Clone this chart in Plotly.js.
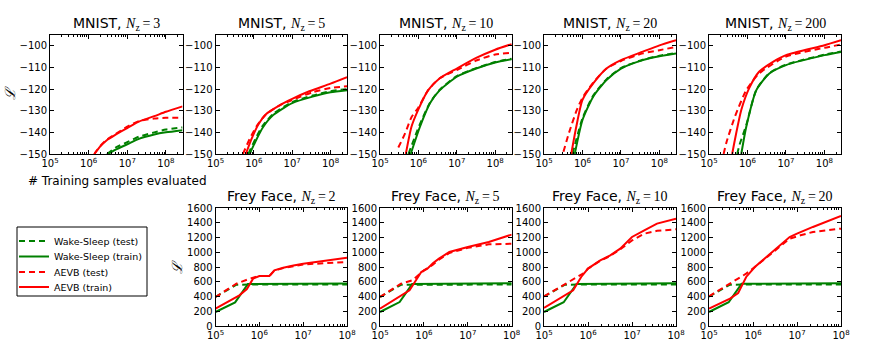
<!DOCTYPE html>
<html>
<head>
<meta charset="utf-8">
<script src="https://cdn.plot.ly/plotly-3.0.1.min.js"></script>
<style>html,body{margin:0;padding:0;background:#fff;}#chart{width:876px;height:355px;}</style>
</head>
<body>
<div id="chart"></div>
<script>
// ---------------- DATA ----------------
const seriesNames = ["Wake-Sleep (test)", "Wake-Sleep (train)", "AEVB (test)", "AEVB (train)"];
const mnistTitles = ["3", "5", "10", "20", "200"];
const freyTitles = ["2", "5", "10", "20"];
const mnistYTicks = [-150, -140, -130, -120, -110, -100];
const freyYTicks = [0, 200, 400, 600, 800, 1000, 1200, 1400, 1600];
const xTicks = [1e5, 1e6, 1e7, 1e8];

// MNIST Nz=3
const m3_wsTest_x = [3.0e6, 5e6, 1e7, 2e7, 5e7, 1e8, 2.7e8];
const m3_wsTest_y = [-150, -147, -144.5, -142, -140, -138.7, -137.7];
const m3_wsTrain_x = [3.2e6, 5e6, 1e7, 2e7, 5e7, 1e8, 2.7e8];
const m3_wsTrain_y = [-150, -148, -145.5, -143, -141, -140, -139];
const m3_aevbTest_x = [1.4e6, 2e6, 3e6, 5e6, 1e7, 2e7, 5e7, 1e8, 2.7e8];
const m3_aevbTest_y = [-150, -146.3, -143.3, -140.8, -137.3, -134.8, -133.6, -133.3, -133.3];
const m3_aevbTrain_x = [1.4e6, 2e6, 3e6, 5e6, 1e7, 2e7, 5e7, 1e8, 2.7e8];
const m3_aevbTrain_y = [-150, -146.5, -143.5, -141, -138, -135, -132.5, -130.5, -128];

// MNIST Nz=5
const m5_wsTest_x = [7.2e5, 1.1e6, 1.7e6, 3.2e6, 1e7, 3.4e7, 1e8, 2.7e8];
const m5_wsTest_y = [-150, -143, -137, -131.5, -126, -123, -121, -120];
const m5_wsTrain_x = [7.8e5, 1.15e6, 1.75e6, 3.2e6, 1e7, 3.4e7, 1e8, 2.7e8];
const m5_wsTrain_y = [-150, -143.5, -137.5, -132, -126.5, -123.5, -121.5, -120.5];
const m5_aevbTest_x = [5.2e5, 7.8e5, 1.2e6, 2e6, 4.7e6, 1e7, 3.4e7, 1e8, 2.7e8];
const m5_aevbTest_y = [-150, -143, -137, -132, -127.5, -125, -121.5, -119.5, -118.7];
const m5_aevbTrain_x = [6.2e5, 8.5e5, 1.3e6, 2.1e6, 4.7e6, 1e7, 2.8e7, 1e8, 2.7e8];
const m5_aevbTrain_y = [-150, -143.5, -136.5, -131.5, -127.5, -124.5, -121, -117.5, -114.5];

// MNIST Nz=10
const m10_wsTest_x = [5.5e5, 1.05e6, 2e6, 3.6e6, 1e7, 3.2e7, 1e8, 2.7e8];
const m10_wsTest_y = [-150, -137, -126.3, -120.3, -114, -110.3, -107.5, -106];
const m10_wsTrain_x = [6.3e5, 1.1e6, 2e6, 3.6e6, 1e7, 3.2e7, 1e8, 2.7e8];
const m10_wsTrain_y = [-150, -137.4, -126.6, -120.5, -114.3, -110.5, -107.7, -106.2];
const m10_aevbTest_x = [3e5, 4.5e5, 6.6e5, 1e6, 1.8e6, 3.6e6, 1e7, 3.2e7, 1e8, 2.7e8];
const m10_aevbTest_y = [-147, -140.5, -133, -128.5, -120.5, -115, -111.2, -106.8, -104, -103.2];
const m10_aevbTrain_x = [4.7e5, 6.6e5, 9.8e5, 1.8e6, 3.6e6, 1e7, 3.2e7, 1e8, 2.7e8];
const m10_aevbTrain_y = [-150, -137.4, -129.7, -120.5, -115, -110.5, -105.6, -101.8, -99.2];

// MNIST Nz=20
const m20_wsTest_x = [5.5e5, 1e6, 1.9e6, 4.2e6, 1e7, 3.7e7, 1e8, 2.7e8];
const m20_wsTest_y = [-150, -133.5, -123, -115.5, -110.3, -106.4, -104.6, -103.3];
const m20_wsTrain_x = [6.3e5, 1e6, 1.9e6, 4.2e6, 1e7, 3.7e7, 1e8, 2.7e8];
const m20_wsTrain_y = [-150, -134.3, -123.5, -115.8, -110.5, -106.6, -104.8, -103.5];
const m20_aevbTest_x = [3.2e5, 4.5e5, 7e5, 1e6, 1.9e6, 4.2e6, 1e7, 3.7e7, 1e8, 2.7e8];
const m20_aevbTest_y = [-149, -140, -130, -124, -117, -110.5, -107, -103.5, -102, -100.5];
const m20_aevbTrain_x = [5.1e5, 6.9e5, 1e6, 1.9e6, 4.2e6, 1e7, 3.7e7, 1e8, 2.7e8];
const m20_aevbTrain_y = [-150, -137.4, -125, -117.4, -110.5, -106.6, -102.7, -99.8, -97.4];

// MNIST Nz=200
const m200_wsTest_x = [5.4e5, 6.2e5, 9.3e5, 1.7e6, 3.7e6, 1e7, 1e8, 2.7e8];
const m200_wsTest_y = [-150, -145.8, -136.6, -120.3, -112.6, -108.7, -104.1, -102.6];
const m200_wsTrain_x = [6.9e5, 9.3e5, 1.7e6, 3.7e6, 1e7, 1e8, 2.7e8];
const m200_wsTrain_y = [-150, -137.4, -120.5, -112.8, -108.9, -104.3, -102.8];
const m200_aevbTest_x = [2.4e5, 2.8e5, 4.7e5, 9.3e5, 2e6, 1e7, 1e8, 2.7e8];
const m200_aevbTest_y = [-150, -145, -132.8, -120.5, -112.8, -105, -100.9, -99.4];
const m200_aevbTrain_x = [4e5, 4.7e5, 6.9e5, 1.1e6, 2e6, 4.6e6, 1e7, 1e8, 2.7e8];
const m200_aevbTrain_y = [-150, -143.5, -129.7, -119.7, -112, -107.4, -104.3, -99.7, -97.4];

// Frey Face Nz=2
const f2_wsTest_x = [1e5, 3e5, 1e6, 1e7, 1e8];
const f2_wsTest_y = [395, 560, 562, 560, 562];
const f2_wsTrain_x = [1e5, 2.8e5, 5.5e5, 1e6, 1e7, 1e8];
const f2_wsTrain_y = [190, 320, 570, 570, 572, 576];
const f2_aevbTest_x = [1e5, 3e5, 6e5, 1e6, 1.7e6, 2.2e6, 3.5e6, 1e7, 1e8];
const f2_aevbTest_y = [393, 574, 642, 678, 678, 750, 785, 835, 868];
const f2_aevbTrain_x = [1e5, 3.5e5, 5.2e5, 7.2e5, 1e6, 1.7e6, 2.2e6, 3.5e6, 6e6, 1e7, 1e8];
const f2_aevbTrain_y = [235, 416, 500, 642, 678, 678, 755, 790, 820, 845, 925];

// Frey Face Nz=5
const f5_wsTest_x = [1e5, 3e5, 1e6, 1e7, 1e8];
const f5_wsTest_y = [393, 558, 560, 560, 562];
const f5_wsTrain_x = [1e5, 2.8e5, 5.4e5, 1e6, 1e7, 1e8];
const f5_wsTrain_y = [190, 325, 568, 570, 574, 580];
const f5_aevbTest_x = [1e5, 3e5, 5.5e5, 1e6, 1.6e6, 2.2e6, 3.8e6, 1e7, 3e7, 1e8];
const f5_aevbTest_y = [393, 574, 620, 755, 830, 900, 990, 1060, 1107, 1116];
const f5_aevbTrain_x = [1e5, 2.8e5, 4.7e5, 6.6e5, 8.7e5, 1.2e6, 1.6e6, 2.2e6, 3.8e6, 1e7, 3e7, 1e8];
const f5_aevbTrain_y = [235, 393, 484, 620, 732, 778, 850, 913, 1003, 1071, 1139, 1239];

// Frey Face Nz=10
const f10_wsTest_x = [1e5, 3e5, 1e6, 1e7, 1e8];
const f10_wsTest_y = [400, 560, 562, 562, 562];
const f10_wsTrain_x = [1e5, 2.8e5, 5.5e5, 1e6, 1e7, 1e8];
const f10_wsTrain_y = [190, 322, 570, 572, 575, 580];
const f10_aevbTest_x = [1e5, 2.9e5, 7.7e5, 1e6, 1.9e6, 3.2e6, 5.4e6, 1e7, 1.9e7, 3.7e7, 1e8];
const f10_aevbTest_y = [402, 565, 710, 778, 885, 950, 1040, 1160, 1252, 1290, 1311];
const f10_aevbTrain_x = [1e5, 2.7e5, 4.6e5, 7e5, 1e6, 1.9e6, 3.2e6, 5.4e6, 1e7, 1.9e7, 3.7e7, 1e8];
const f10_aevbTrain_y = [244, 393, 484, 665, 778, 890, 958, 1049, 1207, 1297, 1388, 1456];

// Frey Face Nz=20
const f20_wsTest_x = [1e5, 3e5, 1e6, 1e7, 1e8];
const f20_wsTest_y = [398, 560, 562, 562, 563];
const f20_wsTrain_x = [1e5, 2.8e5, 5.5e5, 1e6, 1e7, 1e8];
const f20_wsTrain_y = [190, 322, 572, 573, 575, 580];
const f20_aevbTest_x = [1e5, 3e5, 7e5, 1.1e6, 2e6, 4.1e6, 6.8e6, 1.2e7, 2.3e7, 1e8];
const f20_aevbTest_y = [402, 574, 710, 800, 930, 1085, 1184, 1230, 1275, 1320];
const f20_aevbTrain_x = [1e5, 3e5, 4.6e5, 7e5, 1.1e6, 2e6, 4.1e6, 6.8e6, 1e7, 2.3e7, 1e8];
const f20_aevbTrain_y = [235, 371, 448, 665, 800, 936, 1094, 1207, 1252, 1343, 1492];

// ---------------- BUILD ----------------
const panels = [
  [[m3_wsTest_x, m3_wsTest_y], [m3_wsTrain_x, m3_wsTrain_y], [m3_aevbTest_x, m3_aevbTest_y], [m3_aevbTrain_x, m3_aevbTrain_y]],
  [[m5_wsTest_x, m5_wsTest_y], [m5_wsTrain_x, m5_wsTrain_y], [m5_aevbTest_x, m5_aevbTest_y], [m5_aevbTrain_x, m5_aevbTrain_y]],
  [[m10_wsTest_x, m10_wsTest_y], [m10_wsTrain_x, m10_wsTrain_y], [m10_aevbTest_x, m10_aevbTest_y], [m10_aevbTrain_x, m10_aevbTrain_y]],
  [[m20_wsTest_x, m20_wsTest_y], [m20_wsTrain_x, m20_wsTrain_y], [m20_aevbTest_x, m20_aevbTest_y], [m20_aevbTrain_x, m20_aevbTrain_y]],
  [[m200_wsTest_x, m200_wsTest_y], [m200_wsTrain_x, m200_wsTrain_y], [m200_aevbTest_x, m200_aevbTest_y], [m200_aevbTrain_x, m200_aevbTrain_y]],
  [[f2_wsTest_x, f2_wsTest_y], [f2_wsTrain_x, f2_wsTrain_y], [f2_aevbTest_x, f2_aevbTest_y], [f2_aevbTrain_x, f2_aevbTrain_y]],
  [[f5_wsTest_x, f5_wsTest_y], [f5_wsTrain_x, f5_wsTrain_y], [f5_aevbTest_x, f5_aevbTest_y], [f5_aevbTrain_x, f5_aevbTrain_y]],
  [[f10_wsTest_x, f10_wsTest_y], [f10_wsTrain_x, f10_wsTrain_y], [f10_aevbTest_x, f10_aevbTest_y], [f10_aevbTrain_x, f10_aevbTrain_y]],
  [[f20_wsTest_x, f20_wsTest_y], [f20_wsTrain_x, f20_wsTrain_y], [f20_aevbTest_x, f20_aevbTest_y], [f20_aevbTrain_x, f20_aevbTrain_y]]
];

const GREEN = '#008000', RED = '#ff0000';
const styles = [
  {color: GREEN, dash: '6px,4px'},
  {color: GREEN, dash: 'solid'},
  {color: RED, dash: '6px,4px'},
  {color: RED, dash: 'solid'}
];

const W = 876, H = 355;
const colsPx = [[50, 182.5], [215.5, 347], [380, 511.7], [544, 676], [709, 841]];
const topRowPx = [35, 154];
const botRowPx = [208, 326];
const toDomX = p => [p[0] / W, p[1] / W];
const toDomY = p => [1 - p[1] / H, 1 - p[0] / H];

const legendIds = ['legend', 'legend2', 'legend3', 'legend4'];
const legendCentersPx = [241, 256.5, 272, 287];

const traces = [];
const layout = {
  width: W, height: H,
  margin: {l: 0, r: 0, t: 0, b: 0},
  paper_bgcolor: '#fff', plot_bgcolor: '#fff',
  font: {family: 'DejaVu Sans, sans-serif', size: 10, color: '#000'},
  showlegend: true,
  annotations: [],
  shapes: [{
    type: 'rect', xref: 'paper', yref: 'paper',
    x0: 17 / W, x1: 147 / W, y0: 1 - 296 / H, y1: 1 - 227 / H,
    line: {color: '#000', width: 1}, fillcolor: 'rgba(0,0,0,0)', layer: 'below'
  }]
};
legendIds.forEach((id, k) => {
  layout[id] = {
    x: 14 / W, y: 1 - legendCentersPx[k] / H, xanchor: 'left', yanchor: 'middle',
    bgcolor: 'rgba(0,0,0,0)', borderwidth: 0,
    font: {size: 9.5, family: 'DejaVu Sans, sans-serif', color: '#000'},
    tracegroupgap: 0
  };
});

const fontSerif = 'Liberation Serif, DejaVu Serif, serif';

panels.forEach((panel, i) => {
  const n = i + 1;
  const isTop = i < 5;
  const col = isTop ? i : i - 4;
  const xa = 'xaxis' + (n === 1 ? '' : n), ya = 'yaxis' + (n === 1 ? '' : n);
  const xref = 'x' + (n === 1 ? '' : n), yref = 'y' + (n === 1 ? '' : n);
  panel.forEach((s, k) => {
    traces.push({
      x: s[0], y: s[1], xaxis: xref, yaxis: yref,
      type: 'scatter', mode: 'lines',
      name: seriesNames[k], legendgroup: seriesNames[k],
      legend: legendIds[k],
      showlegend: i === 0,
      line: {color: styles[k].color, dash: styles[k].dash, width: 2,
             shape: isTop ? 'spline' : 'linear', smoothing: 0.6},
      hoverinfo: 'skip'
    });
  });
  const common = {
    showline: true, linecolor: '#000', linewidth: 1, mirror: 'allticks',
    ticks: 'inside', ticklen: 4, tickwidth: 1, tickcolor: '#000',
    showgrid: false, zeroline: false, fixedrange: true,
    tickfont: {size: 10, family: 'DejaVu Sans, sans-serif', color: '#000'}
  };
  layout[xa] = Object.assign({}, common, {
    type: 'log', domain: toDomX(colsPx[col]), anchor: yref,
    range: isTop ? [5, 8.43] : [5, 8],
    tickmode: 'array', tickvals: xTicks,
    ticktext: xTicks.map(v => '10<sup>' + Math.round(Math.log10(v)) + '</sup>'),
    minor: {ticks: 'inside', ticklen: 2, tickcolor: '#000', dtick: 'D1', showgrid: false}
  });
  layout[ya] = Object.assign({}, common, {
    domain: toDomY(isTop ? topRowPx : botRowPx), anchor: xref,
    range: isTop ? [-150, -95] : [0, 1600],
    tickmode: 'array', tickvals: isTop ? mnistYTicks : freyYTicks
  });
  const cx = (colsPx[col][0] + colsPx[col][1]) / 2 / W;
  const label = isTop ? 'MNIST, ' : 'Frey Face, ';
  const nz = isTop ? mnistTitles[i] : freyTitles[i - 5];
  layout.annotations.push({
    xref: 'paper', yref: 'paper', x: cx, y: 1 - (isTop ? 24 : 197) / H,
    xanchor: 'center', yanchor: 'middle', showarrow: false,
    text: label + '<span style="font-family:' + fontSerif + '"><i>N</i><sub>z</sub>\u2009=\u2009' + nz + '</span>',
    font: {size: 14, family: 'DejaVu Sans, sans-serif', color: '#000'}
  });
});

// axis labels
layout.annotations.push({
  xref: 'paper', yref: 'paper', x: 10 / W, y: 1 - 93 / H, xanchor: 'center', yanchor: 'middle',
  showarrow: false, textangle: -90, text: '<i>ℒ</i>',
  font: {size: 14, family: fontSerif, color: '#000'}
});
layout.annotations.push({
  xref: 'paper', yref: 'paper', x: 177 / W, y: 1 - 267 / H, xanchor: 'center', yanchor: 'middle',
  showarrow: false, textangle: -90, text: '<i>ℒ</i>',
  font: {size: 14, family: fontSerif, color: '#000'}
});
layout.annotations.push({
  xref: 'paper', yref: 'paper', x: 117 / W, y: 1 - 181 / H, xanchor: 'center', yanchor: 'middle',
  showarrow: false, text: '# Training samples evaluated',
  font: {size: 12, family: 'DejaVu Sans, sans-serif', color: '#000'}
});

Plotly.newPlot('chart', traces, layout, {staticPlot: true, displayModeBar: false});
</script>
</body>
</html>
